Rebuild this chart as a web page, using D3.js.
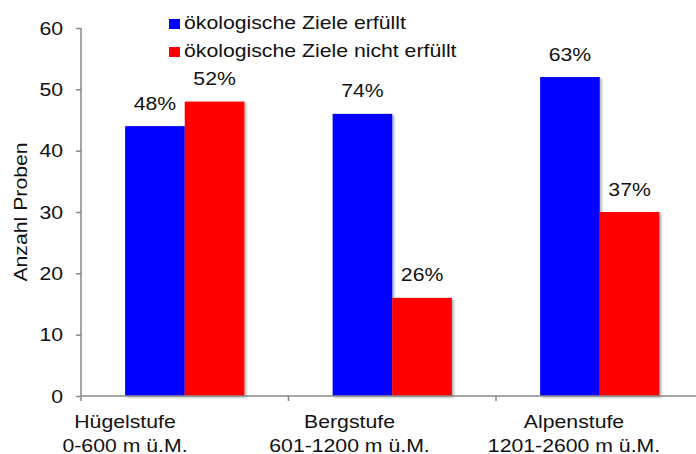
<!DOCTYPE html>
<html>
<head>
<meta charset="utf-8">
<script src="https://cdn.jsdelivr.net/npm/d3@7"></script>
<style>
  body { margin: 0; background: #fff; }
  svg { display: block; font-family: "Liberation Sans", Arial, sans-serif; }
</style>
</head>
<body>
<svg id="chart" width="696" height="454"></svg>
<script>
// data
var categories = ['Hügelstufe', 'Bergstufe', 'Alpenstufe'];
var categoryLines = [
  ['Hügelstufe', '0-600 m ü.M.'],
  ['Bergstufe', '601-1200 m ü.M.'],
  ['Alpenstufe', '1201-2600 m ü.M.']
];
var seriesNames = ['ökologische Ziele erfüllt', 'ökologische Ziele nicht erfüllt'];
var seriesColors = ['#0000ff', '#ff0000'];
var metValues = [44, 46, 52];
var notMetValues = [48, 16, 30];
var metLabels = ['48%', '74%', '63%'];
var notMetLabels = ['52%', '26%', '37%'];
var yTicks = [0, 10, 20, 30, 40, 50, 60];

var svg = d3.select('#chart');
var fontSize = 18;
var stretch = 1.18;   // the reference text runs wide

var plotL = 81, plotT = 28, plotB = 396, plotR = 703.5;

var x = d3.scaleBand().domain(categories).range([plotL, plotR]).padding(0);
var x1 = d3.scaleBand().domain(seriesNames).range([0, x.bandwidth()])
  .paddingInner(0).paddingOuter(0.74);
var y = d3.scaleLinear().domain([0, 60]).range([plotB, plotT]);
var xLab = d3.scalePoint().domain(categories).range([125, 574]);

// subtle drop shadow like the original
var defs = svg.append('defs');
defs.append('filter')
  .attr('id', 'shadow')
  .attr('x', '-10%').attr('y', '-10%')
  .attr('width', '130%').attr('height', '130%')
  .append('feDropShadow')
  .attr('dx', 2).attr('dy', 1.5)
  .attr('stdDeviation', 1.2)
  .attr('flood-color', '#000')
  .attr('flood-opacity', 0.3);

function addText(parent, str, px, py, anchor, rotate) {
  var tr = 'translate(' + px + ',' + py + ')';
  if (rotate) {
    tr += ' rotate(' + rotate + ')';
  }
  tr += ' scale(' + stretch + ',1)';

  return parent.append('text')
    .attr('transform', tr)
    .attr('text-anchor', anchor)
    .style('font-size', fontSize + 'px')
    .style('fill', '#111')
    .text(str);
}

// bars
var rows = categories.map(function (c, i) {
  return [
    { cat: c, s: seriesNames[0], v: metValues[i], lbl: metLabels[i], col: seriesColors[0] },
    { cat: c, s: seriesNames[1], v: notMetValues[i], lbl: notMetLabels[i], col: seriesColors[1] }
  ];
});

var groups = svg.selectAll('g.group')
  .data(rows)
  .enter()
  .append('g')
  .attr('class', 'group')
  .attr('transform', function (d) { return 'translate(' + x(d[0].cat) + ',0)'; });

groups.selectAll('rect')
  .data(function (d) { return d; })
  .enter()
  .append('rect')
  .attr('x', function (d) { return x1(d.s); })
  .attr('y', function (d) { return y(d.v); })
  .attr('width', x1.bandwidth())
  .attr('height', function (d) { return y(0) - y(d.v); })
  .attr('fill', function (d) { return d.col; })
  .attr('filter', 'url(#shadow)');

groups.each(function (grp) {
  var g = d3.select(this);
  grp.forEach(function (d) {
    addText(g, d.lbl, x1(d.s) + x1.bandwidth() / 2, y(d.v) - 16.5, 'middle');
  });
});

// axes
var axisColor = '#888';

var yAxis = svg.append('g')
  .attr('transform', 'translate(' + plotL + ',0)')
  .call(d3.axisLeft(y).tickValues(yTicks).tickSize(5).tickPadding(0).tickFormat(''));
yAxis.select('.domain').attr('d', 'M0,' + plotT + 'V' + plotB).attr('stroke', axisColor).attr('stroke-width', 1.5);
yAxis.selectAll('.tick line').attr('stroke', axisColor).attr('stroke-width', 1.5);
yAxis.selectAll('.tick text').remove();

yTicks.forEach(function (t) {
  addText(svg, String(t), 63, y(t) + 6.5, 'end');
});

var xAxis = svg.append('g')
  .attr('transform', 'translate(0,' + plotB + ')');
xAxis.append('line')
  .attr('x1', plotL).attr('x2', plotR + 10)
  .attr('stroke', axisColor).attr('stroke-width', 1.5);
xAxis.selectAll('line.tick')
  .data(categories.concat(['end']))
  .enter()
  .append('line')
  .attr('class', 'tick')
  .attr('x1', function (d) { return d === 'end' ? plotR : x(d); })
  .attr('x2', function (d) { return d === 'end' ? plotR : x(d); })
  .attr('y1', 0).attr('y2', 5)
  .attr('stroke', axisColor).attr('stroke-width', 1.5);

categoryLines.forEach(function (lines, i) {
  addText(svg, lines[0], xLab(categories[i]), 427.5, 'middle');
  addText(svg, lines[1], xLab(categories[i]), 452, 'middle');
});

// y title
addText(svg, 'Anzahl Proben', 27, 212, 'middle', -90);

// legend
var legend = svg.append('g');
seriesNames.forEach(function (name, i) {
  var ly = 29 + i * 28;
  legend.append('rect')
    .attr('x', 169).attr('y', ly - 10)
    .attr('width', 11).attr('height', 10)
    .attr('fill', seriesColors[i]);
  addText(legend, name, 184, ly, 'start');
});
</script>
</body>
</html>
